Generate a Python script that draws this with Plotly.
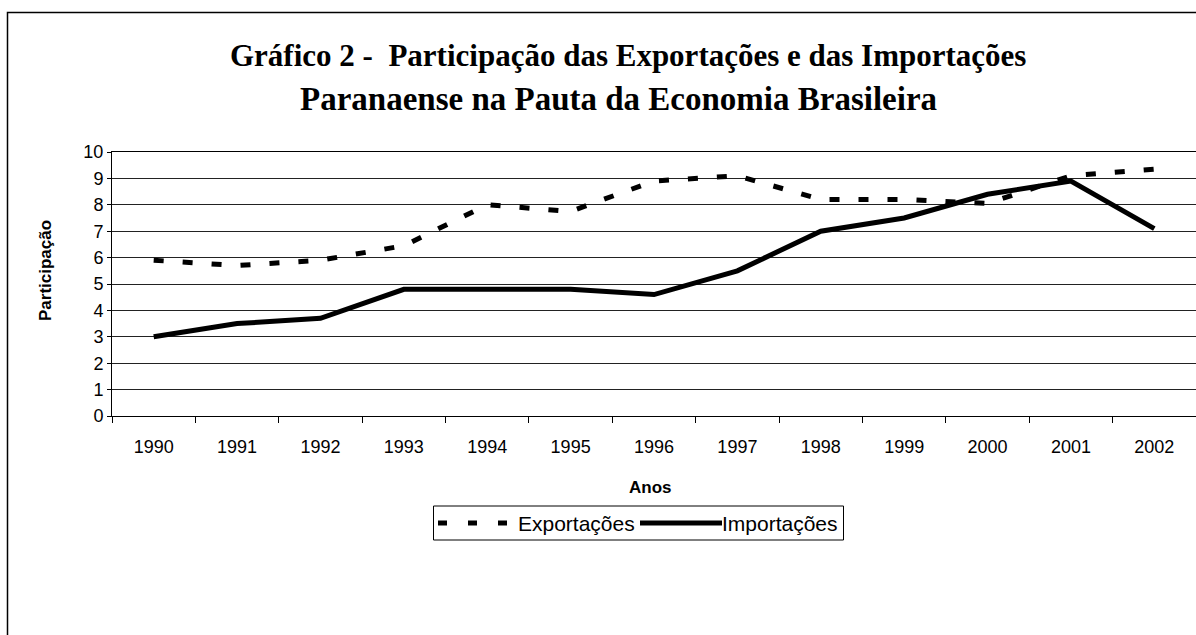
import plotly.graph_objects as go

anos = ["1990", "1991", "1992", "1993", "1994", "1995", "1996",
        "1997", "1998", "1999", "2000", "2001", "2002"]
exportacoes = [5.9, 5.7, 5.9, 6.45, 8.0, 7.75, 8.9, 9.1, 8.2, 8.2, 8.05, 9.1, 9.35]
importacoes = [3.0, 3.5, 3.7, 4.8, 4.8, 4.8, 4.6, 5.5, 7.0, 7.5, 8.4, 8.9, 7.1]
y_ticks = list(range(0, 11))
series_names = ["Exportações", "Importações"]

W, H = 1196, 635
L, R, T, B = 112, 0, 152, 219
pw = W - L - R
ph = H - T - B

def px_x(x):
    return (x - L) / pw

def px_y(y):
    return (H - B - y) / ph

EXP_DASH = "10px,19px"

fig = go.Figure()
fig.add_trace(go.Scatter(
    x=anos, y=exportacoes, name=series_names[0], mode="lines",
    line=dict(color="black", width=5, dash=EXP_DASH), showlegend=False,
))
fig.add_trace(go.Scatter(
    x=anos, y=importacoes, name=series_names[1], mode="lines",
    line=dict(color="black", width=5), showlegend=False,
))

axis_font = dict(family="Liberation Sans, Arial", size=18, color="black")
legend_font = dict(family="Liberation Sans, Arial", size=21, color="black")
bold_font = dict(family="Liberation Sans, Arial", size=17, color="black")
title_font1 = dict(family="Liberation Serif, Times New Roman", size=31, color="black")
title_font2 = dict(family="Liberation Serif, Times New Roman", size=33, color="black")

# manual legend (box, samples, labels)
leg_y = 523
shapes = [
    dict(type="rect", xref="paper", yref="paper",
         x0=px_x(7.5), x1=px_x(1210), y0=px_y(12.5), y1=px_y(700),
         line=dict(color="black", width=1.5), fillcolor="rgba(0,0,0,0)",
         layer="below"),
    dict(type="rect", xref="paper", yref="paper",
         x0=px_x(433.5), x1=px_x(843.5), y0=px_y(506), y1=px_y(540),
         line=dict(color="black", width=1), fillcolor="white"),
    dict(type="line", xref="paper", yref="paper",
         x0=px_x(438), x1=px_x(508), y0=px_y(leg_y), y1=px_y(leg_y),
         line=dict(color="black", width=5, dash="9px,21px")),
    dict(type="line", xref="paper", yref="paper",
         x0=px_x(640), x1=px_x(722), y0=px_y(leg_y), y1=px_y(leg_y),
         line=dict(color="black", width=5)),
]

annotations = [
    dict(text="<b>Gráfico 2 -  Participação das Exportações e das Importações</b>",
         xref="paper", yref="paper", x=px_x(628), y=px_y(75),
         xanchor="center", yanchor="bottom", showarrow=False, font=title_font1),
    dict(text="<b>Paranaense na Pauta da Economia Brasileira</b>",
         xref="paper", yref="paper", x=px_x(618), y=px_y(119),
         xanchor="center", yanchor="bottom", showarrow=False, font=title_font2),
    dict(text="<b>Anos</b>", xref="paper", yref="paper",
         x=px_x(650), y=px_y(487), xanchor="center", yanchor="middle",
         showarrow=False, font=bold_font),
    dict(text="<b>Participação</b>", xref="paper", yref="paper",
         x=px_x(45), y=px_y(271), xanchor="center", yanchor="middle",
         textangle=-90, showarrow=False, font=bold_font),
    dict(text=series_names[0], xref="paper", yref="paper",
         x=px_x(516), y=px_y(leg_y), xanchor="left", yanchor="middle",
         showarrow=False, font=legend_font),
    dict(text=series_names[1], xref="paper", yref="paper",
         x=px_x(720), y=px_y(leg_y), xanchor="left", yanchor="middle",
         showarrow=False, font=legend_font),
]

fig.update_layout(
    width=W, height=H,
    margin=dict(l=L, r=R, t=T, b=B, pad=0),
    paper_bgcolor="white", plot_bgcolor="white",
    showlegend=False,
    xaxis=dict(
        type="category", range=[-0.5, 12.5], tickson="boundaries",
        ticks="outside", ticklen=6,
        tickcolor="black", showline=True, linecolor="black", linewidth=1,
        mirror=True, showgrid=False, tickfont=axis_font,
        ticklabelstandoff=14, fixedrange=True,
    ),
    yaxis=dict(
        range=[0, 10], tickvals=y_ticks, ticks="outside", ticklen=4,
        tickcolor="black", showline=True, linecolor="black", linewidth=1,
        mirror=True, showgrid=True, gridcolor="#222222", gridwidth=1,
        tickfont=axis_font, zeroline=False, ticklabelstandoff=0,
        fixedrange=True,
    ),
    annotations=annotations,
    shapes=shapes,
)

fig.write_html("out.html", config={"displayModeBar": False},
               post_script="document.body.style.margin='0';")
